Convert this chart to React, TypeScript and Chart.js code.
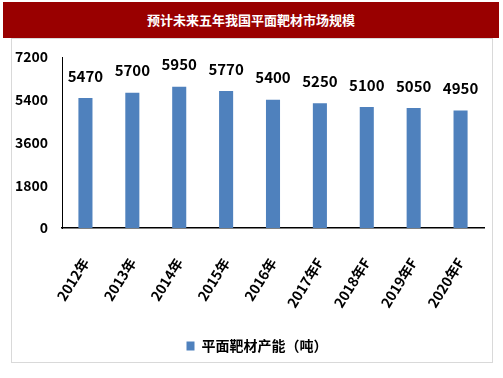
import React, { useEffect, useRef } from "react";
import { Chart, registerables } from "chart.js";

Chart.register(...registerables);

const TITLE = "预计未来五年我国平面靶材市场规模";
const SERIES_NAME = "平面靶材产能（吨）";
const CATEGORIES = ["2012年", "2013年", "2014年", "2015年", "2016年", "2017年F", "2018年F", "2019年F", "2020年F"];
const VALUES = [5470, 5700, 5950, 5770, 5400, 5250, 5100, 5050, 4950];
const Y_MIN = 0;
const Y_MAX = 7200;
const Y_STEP = 1800;

const FONT = "'Noto Sans CJK SC', 'Noto Sans', sans-serif";

const valueLabels = {
  id: "valueLabels",
  afterDatasetsDraw(chart: any) {
    const ctx = chart.ctx;
    const meta = chart.getDatasetMeta(0);
    ctx.save();
    ctx.font = `bold 15px ${FONT}`;
    ctx.fillStyle = "#000";
    ctx.textAlign = "center";
    ctx.textBaseline = "middle";
    meta.data.forEach((bar: any, i: number) => {
      ctx.fillText(String(VALUES[i]), bar.x, bar.y - 22);
    });
    ctx.restore();
  },
};

const legendShift = {
  id: "legendShift",
  afterLayout(chart: any) {
    const lg = chart.legend;
    if (lg) {
      lg.left += 9;
      lg.right += 9;
    }
  },
};

export default function App() {
  const ref = useRef<HTMLCanvasElement>(null);
  useEffect(() => {
    if (!ref.current) return;
    const chart = new Chart(ref.current, {
      type: "bar",
      data: {
        labels: CATEGORIES,
        datasets: [
          {
            label: SERIES_NAME,
            data: VALUES,
            backgroundColor: "#4f81bd",
            borderWidth: 0,
            barPercentage: 0.3,
            categoryPercentage: 1,
          },
        ],
      },
      options: {
        responsive: false,
        animation: false,
        layout: { padding: { top: 57, right: 19, left: 12, bottom: 15 } },
        plugins: {
          legend: {
            position: "bottom",
            labels: {
              boxWidth: 8,
              boxHeight: 9,
              padding: 10,
              color: "#000",
              font: { family: FONT, size: 14, weight: "bold" },
            },
          },
          tooltip: { enabled: false },
        },
        scales: {
          x: {
            afterFit: (s: any) => {
              s.height = 101;
            },
            grid: { display: false, drawTicks: false },
            border: { display: true, color: "#000", width: 1.5 },
            ticks: {
              autoSkip: false,
              minRotation: 58,
              maxRotation: 58,
              padding: 27,
              color: "#000",
              font: { family: FONT, size: 14, weight: "bold" },
            },
          },
          y: {
            min: Y_MIN,
            max: Y_MAX,
            afterFit: (s: any) => {
              s.width = 50;
            },
            grid: { display: false, drawTicks: false },
            border: { display: true, color: "#000", width: 1 },
            ticks: {
              stepSize: Y_STEP,
              padding: 14,
              color: "#000",
              font: { family: FONT, size: 14, weight: "bold" },
              callback: (v: any) => String(v),
            },
          },
        },
      },
      plugins: [valueLabels, legendShift],
    });
    return () => chart.destroy();
  }, []);

  return (
    <div style={{ position: "absolute", left: 0, top: 0, width: 503, height: 378, background: "#fff" }}>
      <div
        style={{
          position: "absolute",
          left: 11,
          top: 38,
          width: 480,
          height: 323,
          border: "1px solid #d9d9d9",
        }}
      />
      <div
        style={{
          position: "absolute",
          left: 3,
          top: 2,
          width: 496,
          height: 36,
          background: "#990000",
          color: "#fff",
          fontFamily: FONT,
          fontWeight: "bold",
          fontSize: 13,
          lineHeight: "36px",
          textAlign: "center",
        }}
      >
        {TITLE}
      </div>
      <canvas ref={ref} width={503} height={378} style={{ position: "absolute", left: 0, top: 0 }} />
    </div>
  );
}
